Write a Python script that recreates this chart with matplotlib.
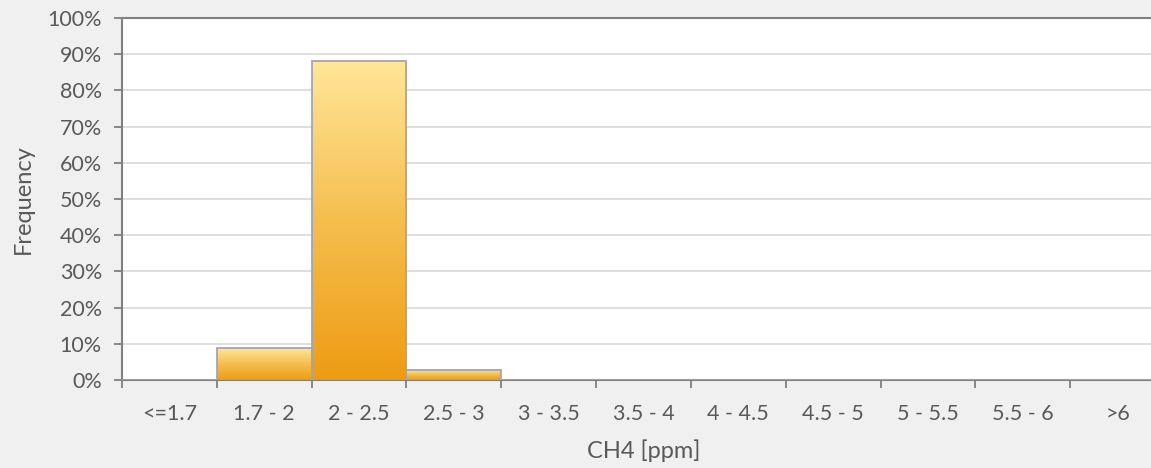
import numpy as np
import matplotlib
matplotlib.use("Agg")
import matplotlib.pyplot as plt
from matplotlib.colors import LinearSegmentedColormap
from matplotlib.ticker import FuncFormatter, MultipleLocator

categories = ["<=1.7", "1.7 - 2", "2 - 2.5", "2.5 - 3", "3 - 3.5", "3.5 - 4",
              "4 - 4.5", "4.5 - 5", "5 - 5.5", "5.5 - 6", ">6"]
frequency = [0.0, 8.8, 88.0, 2.8, 0.0, 0.0, 0.0, 0.0, 0.0, 0.0, 0.0]

plt.rcParams['font.family'] = ['Lato', 'DejaVu Sans']
txt = '#595959'
fig = plt.figure(figsize=(11.51, 4.68), dpi=100, facecolor='#F0F0F0')
ax = fig.add_axes([122/1151, 1 - 380/468, (1165-122)/1151, (380-18)/468])
ax.set_facecolor('white')

x = np.arange(len(categories))
bars = ax.bar(x, frequency, width=1.0, facecolor='none', edgecolor='#A6A6A6',
              linewidth=1.3, zorder=3)
cmap = LinearSegmentedColormap.from_list('g', ['#EE9C12', '#F5BE4E', '#FFE699'])
grad = np.linspace(0, 1, 256).reshape(-1, 1)
for b, v in zip(bars, frequency):
    if v <= 0:
        continue
    x0 = b.get_x()
    ax.imshow(grad, cmap=cmap, origin='lower', aspect='auto',
              extent=[x0, x0 + b.get_width(), 0, v], zorder=2)

ax.set_xlim(-0.5, len(categories) - 0.5)
ax.set_ylim(0, 100)
ax.yaxis.set_major_locator(MultipleLocator(10))
ax.yaxis.set_major_formatter(FuncFormatter(lambda v, p: f"{int(round(v))}%"))
ax.grid(axis='y', color='#D9D9D9', linewidth=1.2, zorder=0)
ax.set_axisbelow(True)

ax.set_xticks(x)
ax.set_xticklabels(categories)
ax.set_xticks(np.arange(-0.5, len(categories)), minor=True)
ax.tick_params(axis='x', which='major', length=0, pad=17, labelsize=15.5, colors=txt)
ax.tick_params(axis='x', which='minor', length=6, width=1.3, color='#808080', direction='out')
ax.tick_params(axis='y', length=6, width=1.3, color='#808080', labelsize=15.5,
               labelcolor=txt, pad=8.5)

for s in ['left', 'bottom', 'top']:
    ax.spines[s].set_color('#808080')
    ax.spines[s].set_linewidth(1.5)
ax.spines['right'].set_visible(False)

ax.set_xlabel('CH4 [ppm]', fontsize=17, color=txt, labelpad=11)
ax.set_ylabel('Frequency', fontsize=17, color=txt, labelpad=10)

fig.savefig('out.png', dpi=100, facecolor=fig.get_facecolor())
